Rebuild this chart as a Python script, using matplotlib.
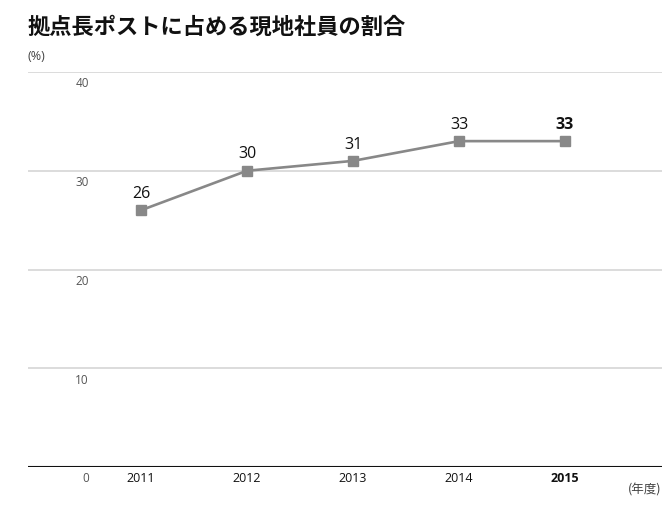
import matplotlib
matplotlib.use("Agg")
import matplotlib.pyplot as plt
import matplotlib.transforms as mtransforms

years = ["2011", "2012", "2013", "2014", "2015"]
ratio = [26, 30, 31, 33, 33]
yticks = [0, 10, 20, 30, 40]

plt.rcParams['font.family'] = ['Open Sans', 'Noto Sans CJK JP', 'DejaVu Sans']

fig = plt.figure(figsize=(6.62, 5.2), dpi=100)
ax = fig.add_axes([28/662, 53/520, 634/662, 395/520])

x = list(range(len(years)))
ax.plot(x, ratio, color="#888888", lw=1.9, marker="s", ms=7.5, zorder=3)

# data labels, last one bold
for i, v in enumerate(ratio):
    bold = "bold" if i == len(ratio) - 1 else "normal"
    ax.annotate(str(v), (i, v), xytext=(0, 6), textcoords="offset points",
                ha="center", va="bottom", fontsize=11.5, fontweight=bold, color="#111111")

ax.set_xlim(-1.066, 4.915)
ax.set_ylim(0, 40)

for t in yticks[1:]:
    ax.axhline(t, color="#d9d9d9", lw=1.3, zorder=1)
ax.axhline(0, color="#111111", lw=1.5, zorder=2)

trans = mtransforms.blended_transform_factory(fig.transFigure, ax.transData)
for t in yticks:
    ax.text(89/662, t - 0.55, str(t), transform=trans, ha="right", va="top",
            fontsize=8.5, color="#555555")

for i, y in enumerate(years):
    bold = "bold" if i == len(years) - 1 else "normal"
    ax.text(i, -0.55, y, ha="center", va="top", fontsize=9, fontweight=bold, color="#111111")

for s in ax.spines.values():
    s.set_visible(False)
ax.set_xticks([])
ax.set_yticks([])

fig.text(28/662, 1 - 27/520, "拠点長ポストに占める現地社員の割合", fontsize=16,
         fontweight="bold", va="center", ha="left", color="#111111",
         family=['Noto Sans CJK JP'])
fig.text(28/662, 1 - 56/520, "(%)", fontsize=9, va="center", ha="left", color="#444444")
fig.text(661/662, 1 - 490/520, "(年度)", fontsize=9, va="center", ha="right", color="#444444",
         family=['Noto Sans CJK JP'])

fig.savefig("out.png", dpi=100)
